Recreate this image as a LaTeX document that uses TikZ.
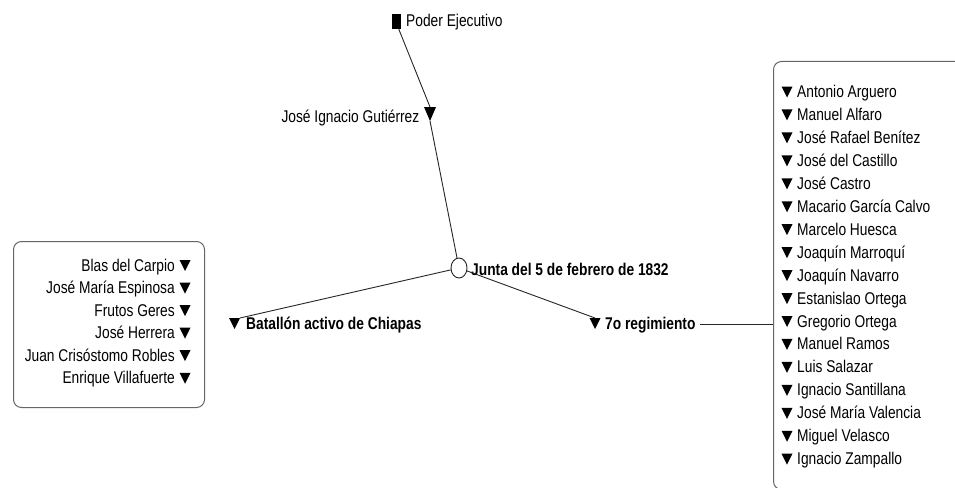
\documentclass[tikz,border=0pt]{standalone}
\usepackage{fontspec}
\setmainfont{Liberation Sans}[FakeStretch=0.81]
\usetikzlibrary{shapes.geometric,calc}
\tikzset{
 lbl/.style={inner sep=0pt, font=\fontsize{17}{20}\selectfont},
 blbl/.style={inner sep=0pt, font=\fontsize{17}{20}\selectfont\bfseries},
 conn/.style={draw=black!85, line width=0.9pt},
 boxst/.style={draw=black!60, line width=1pt, rounded corners=8pt, inner sep=0pt},
 sq/.style={fill=black, inner sep=0pt, minimum width=9pt, minimum height=15pt},
 junct/.style={draw=black!85, line width=0.9pt, ellipse, inner sep=0pt, minimum width=16pt, minimum height=20pt},
 pics/dtri/.style={code={\fill (-5.5,0) -- (5.5,0) -- (0,11) -- cycle;
   \coordinate (-top) at (0,0); \coordinate (-tr) at (5.5,0); \coordinate (-apex) at (0,11);}},
 pics/bigtri/.style={code={\fill (-6,0) -- (6,0) -- (0,14) -- cycle;
   \coordinate (-top) at (0,0); \coordinate (-apex) at (0,14);}},
}
\begin{document}
\begin{tikzpicture}[x=1pt,y=-1pt]
\useasboundingbox (0,0) rectangle (955,487);
\fill[white] (0,0) rectangle (955,487);

% top
\node[sq] (ps) at (396,21.5) {};
\node[lbl, anchor=base west] (poder) at (406,27) {Poder Ejecutivo};
\pic (g) at (430,107) {bigtri};
\node[lbl, anchor=base east] (gut) at (419.5,122) {José Ignacio Gutiérrez};

% junta
\node[junct] (junta) at (459,268) {};
\node[blbl, anchor=base west] (jt) at (471,275.5) {Junta del 5 de febrero de 1832};

% batallon
\pic (bt) at (234.5,318) {dtri};
\node[blbl, anchor=base west] (bat) at (246,329) {Batallón activo de Chiapas};

% 7o regimiento
\pic (st) at (595,318) {dtri};
\node[blbl, anchor=base west] (sr) at (605,329) {7o regimiento};

% boxes
\node[boxst, anchor=north west, minimum width=191pt, minimum height=166pt] (lbox) at (13,241) {};
\begin{scope}
\clip (0,0) rectangle (955,487);
\node[boxst, anchor=north west, minimum width=200pt, minimum height=428pt] (rbox) at (773,61) {};
\end{scope}

% connectors
\draw[conn] (ps.-70) -- (g-top);
\draw[conn] (g-apex) -- (junta);
\draw[conn] (junta) -- (bt-tr);
\draw[conn] (junta) -- (st-top);
\draw[conn] ([xshift=4pt]sr.east) -- (sr.east -| rbox.west);

% left list
\foreach \n [count=\i from 0] in {Blas del Carpio, José María Espinosa, Frutos Geres, José Herrera, Juan Crisóstomo Robles, Enrique Villafuerte}{
  \pic (lt\i) at (185,{271+22.55*\i-11}) {dtri};
  \node[lbl, anchor=base east] (l\i) at (175,{271+22.55*\i}) {\n};
}

% right list
\foreach \n [count=\i from 0] in {Antonio Arguero, Manuel Alfaro, José Rafael Benítez, José del Castillo, José Castro, Macario García Calvo, Marcelo Huesca, Joaquín Marroquí, Joaquín Navarro, Estanislao Ortega, Gregorio Ortega, Manuel Ramos, Luis Salazar, Ignacio Santillana, José María Valencia, Miguel Velasco, Ignacio Zampallo}{
  \pic (rt\i) at (787,{97.5+22.95*\i-11}) {dtri};
  \node[lbl, anchor=base west] (r\i) at (797,{97.5+22.95*\i}) {\n};
}
\end{tikzpicture}
\end{document}
